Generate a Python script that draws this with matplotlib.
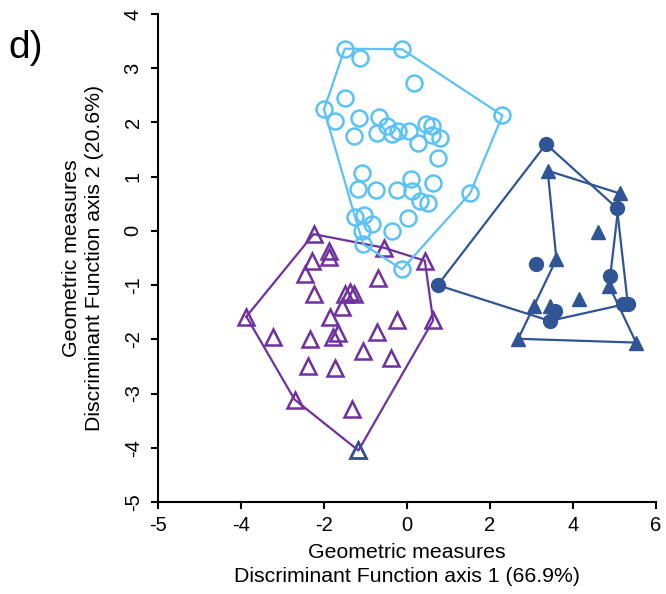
import matplotlib
matplotlib.use("Agg")
import matplotlib.pyplot as plt
import numpy as np

plt.rcParams['font.family'] = ['Liberation Sans', 'DejaVu Sans']

# ---- data (discriminant function scores) ----
lb_x = [-1.50, -1.13, -0.12, 0.16, -1.50, -2.00, 2.30, -1.73, -1.16, -0.68,
        -1.28, -0.73, -0.47, -0.36, -0.22, 0.04, 0.26, 0.45, 0.61, 0.61,
        0.80, 0.75, -1.08, -1.19, -0.74, -0.24, 0.09, 0.13, 0.32, 0.51,
        0.63, 1.52, -1.25, -1.03, -0.85, -1.09, -1.05, -0.37, 0.03, -0.12]
lb_y = [3.36, 3.19, 3.35, 2.72, 2.45, 2.24, 2.13, 2.02, 2.08, 2.10,
        1.75, 1.80, 1.93, 1.78, 1.85, 1.85, 1.63, 1.98, 1.94, 1.77,
        1.72, 1.34, 1.06, 0.78, 0.75, 0.75, 0.95, 0.74, 0.55, 0.52,
        0.88, 0.69, 0.25, 0.30, 0.12, -0.01, -0.25, -0.01, 0.23, -0.71]

pu_x = [-2.25, -1.88, -1.88, -2.28, -2.45, -0.56, 0.43, -0.70, -2.23, -1.50,
        -1.38, -1.27, -1.56, -1.86, -3.87, -0.25, 0.63, -1.66, -1.78, -3.24,
        -2.34, -0.73, -1.05, -0.39, -2.39, -1.74, -2.71, -1.33, -1.17]
pu_y = [-0.06, -0.37, -0.49, -0.55, -0.80, -0.31, -0.55, -0.87, -1.17, -1.17,
        -1.13, -1.17, -1.41, -1.58, -1.58, -1.65, -1.65, -1.89, -1.96, -1.96,
        -2.00, -1.87, -2.22, -2.35, -2.49, -2.52, -3.11, -3.29, -4.05]

dc_x = [3.35, 5.06, 3.11, 4.89, 5.20, 5.32, 3.56, 3.44, 0.74]
dc_y = [1.60, 0.42, -0.61, -0.83, -1.34, -1.34, -1.47, -1.66, -1.00]

dt_x = [3.39, 5.13, 4.61, 3.60, 4.87, 4.14, 3.05, 3.45, 2.68, 5.52]
dt_y = [1.11, 0.69, -0.02, -0.52, -1.01, -1.26, -1.38, -1.38, -1.99, -2.06]
# outline order of the triangle group polygon (indices into dt_x / dt_y)
dt_outline = [0, 1, 4, 9, 8, 3]

# point of the purple group drawn with a dark blue outline
ob_x = [-1.17]
ob_y = [-4.05]

x_ticks = [-6, -4, -2, 0, 2, 4, 6]
x_ticklabels = ['-5', '-4', '-2', '0', '2', '4', '6']
y_ticks = [-5, -4, -3, -2, -1, 0, 1, 2, 3, 4]

c_light = '#5BC2F7'
c_purple = '#7030A0'
c_dark = '#2F5597'


def convex_hull(xs, ys):
    pts = sorted(set(zip(xs, ys)))

    def cross(o, a, b):
        return (a[0] - o[0]) * (b[1] - o[1]) - (a[1] - o[1]) * (b[0] - o[0])
    lower, upper = [], []
    for p in pts:
        while len(lower) >= 2 and cross(lower[-2], lower[-1], p) <= 0:
            lower.pop()
        lower.append(p)
    for p in reversed(pts):
        while len(upper) >= 2 and cross(upper[-2], upper[-1], p) <= 0:
            upper.pop()
        upper.append(p)
    hull = lower[:-1] + upper[:-1]
    hull.append(hull[0])
    return [p[0] for p in hull], [p[1] for p in hull]


fig = plt.figure(figsize=(6.66, 5.94), dpi=100)
ax = fig.add_axes([0.2372, 0.1549, 0.7478, 0.8215])

lw = 1.6
# purple group
hx, hy = convex_hull(pu_x, pu_y)
ax.plot(hx, hy, color=c_purple, lw=lw, zorder=2)
ax.plot(pu_x, pu_y, linestyle='none', marker='^', markersize=11,
        markerfacecolor='none', markeredgecolor=c_purple, markeredgewidth=1.8, zorder=3)
ax.plot(ob_x, ob_y, linestyle='none', marker='^', markersize=11,
        markerfacecolor='none', markeredgecolor=c_dark, markeredgewidth=1.8, zorder=3)

# light blue group
hx, hy = convex_hull(lb_x, lb_y)
ax.plot(hx, hy, color=c_light, lw=lw, zorder=4)
ax.plot(lb_x, lb_y, linestyle='none', marker='o', markersize=11.5,
        markerfacecolor='none', markeredgecolor=c_light, markeredgewidth=1.8, zorder=5)

# dark blue groups
hx, hy = convex_hull(dc_x, dc_y)
ax.plot(hx, hy, color=c_dark, lw=lw, zorder=6)
ox = [dt_x[i] for i in dt_outline] + [dt_x[dt_outline[0]]]
oy = [dt_y[i] for i in dt_outline] + [dt_y[dt_outline[0]]]
ax.plot(ox, oy, color=c_dark, lw=lw, zorder=6)
ax.plot(dc_x, dc_y, linestyle='none', marker='o', markersize=10,
        markerfacecolor=c_dark, markeredgecolor=c_dark, zorder=7)
ax.plot(dt_x, dt_y, linestyle='none', marker='^', markersize=9.5,
        markerfacecolor=c_dark, markeredgecolor=c_dark, zorder=7)

ax.set_xlim(-6, 6)
ax.set_ylim(-5, 4)
ax.set_xticks(x_ticks)
ax.set_xticklabels(x_ticklabels)
ax.set_yticks(y_ticks)
ax.set_yticklabels([str(v) for v in y_ticks], rotation=90, va='center')

for s in ['top', 'right']:
    ax.spines[s].set_visible(False)
for s in ['left', 'bottom']:
    ax.spines[s].set_linewidth(1.5)
    ax.spines[s].set_color('black')
ax.tick_params(direction='out', length=5, width=1.5, labelsize=14.5)
ax.tick_params(axis='y', pad=6)
ax.tick_params(axis='x', pad=5)

ax.set_xlabel('Geometric measures\nDiscriminant Function axis 1 (66.9%)',
              fontsize=15.3, linespacing=1.3, labelpad=6)
ax.set_ylabel('Geometric measures\nDiscriminant Function axis 2 (20.6%)',
              fontsize=15.3, linespacing=1.3, labelpad=14)

fig.text(0.012, 0.92, 'd)', fontsize=28, ha='left', va='center')

fig.savefig('out.png', dpi=100)
